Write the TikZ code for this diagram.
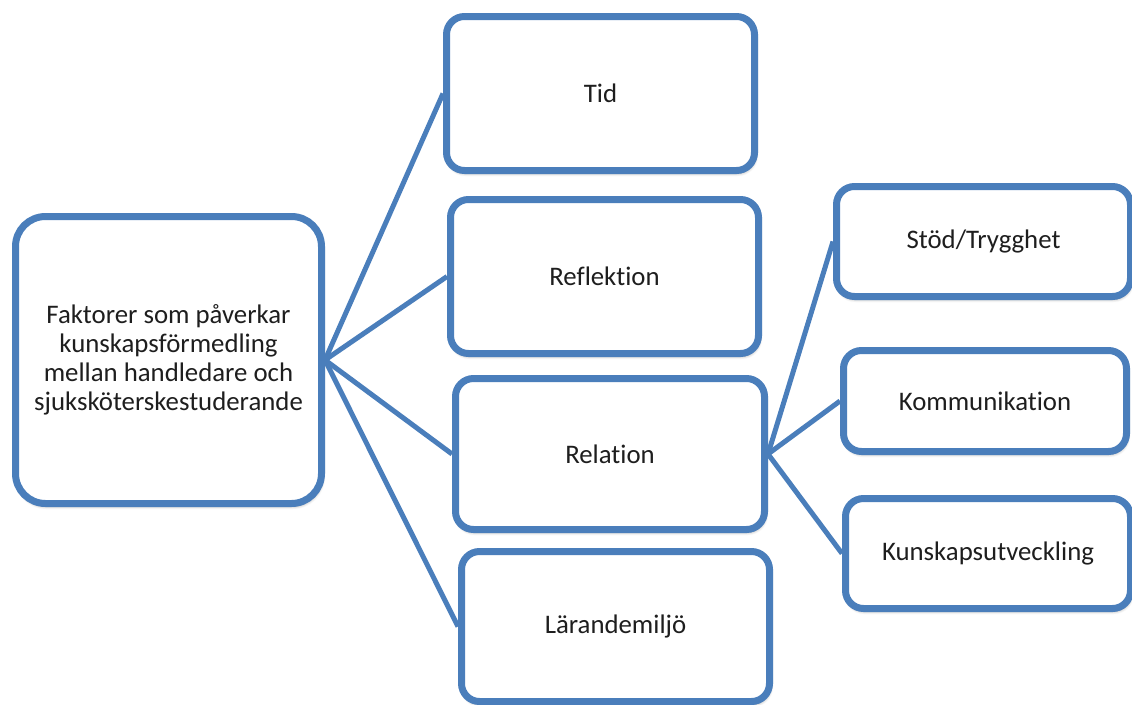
\documentclass[tikz,border=0pt]{standalone}
\usepackage{fontspec}
\setmainfont{Carlito}[Ligatures={NoCommon,NoContextual}]
\definecolor{frame}{RGB}{74, 126, 187}
\definecolor{ink}{RGB}{30, 30, 30}
\usepackage{tikz}
\usepackage{xcolor}
\usetikzlibrary{calc,shapes,positioning,shadows.blur}
\tikzset{
    factorbox/.style={draw=frame, line width=7pt, fill=white, rounded corners=18pt,
        text=ink, align=center, inner sep=0pt,
        font=\fontsize{26.8}{29}\selectfont,
        blur shadow={shadow xshift=1pt, shadow yshift=-3pt, shadow opacity=35,
            shadow blur radius=3pt, shadow blur steps=6}},
    link/.style={draw=frame, line width=5pt}
}

\begin{document}
\begin{tikzpicture}[x=1pt, y=-1pt]
                \useasboundingbox (0,0) rectangle (1132,704);
                % main factor on the left
                \node[factorbox, rounded corners=30pt, minimum width=306pt, minimum height=287pt]
                    (faktorer) at (168.5,360)
                    {Faktorer som påverkar\\kunskapsförmedling\\mellan handledare och\\sjuksköterskestuderande};
                % first level
                \node[factorbox, minimum width=308pt, minimum height=154pt] (tid) at (600.5,93.5) {Tid};
                \node[factorbox, minimum width=308pt, minimum height=154pt] (reflektion) at (604.5,276.5) {Reflektion};
                \node[factorbox, minimum width=309pt, minimum height=151pt] (relation) at (610,454) {Relation};
                \node[factorbox, minimum width=308pt, minimum height=150pt] (miljo) at (615.5,626.5) {Lärandemiljö};
                % second level, under relation
                \node[factorbox, minimum width=294pt, minimum height=110pt] (stod) at (983.5,241.5) {Stöd/Trygghet};
                \node[factorbox, minimum width=283pt, minimum height=101pt] (komm) at (985,401) {Kommunikation};
                \node[factorbox, minimum width=285pt, minimum height=110pt] (kunskap) at (988,553.5) {Kunskapsutveckling};
                % connectors
                \foreach \child in {tid,reflektion,relation,miljo}
                    \draw[link] (faktorer.east) -- (\child.west);
                \foreach \child in {stod,komm,kunskap}
                    \draw[link] (relation.east) -- (\child.west);
            \end{tikzpicture}
\end{document}
